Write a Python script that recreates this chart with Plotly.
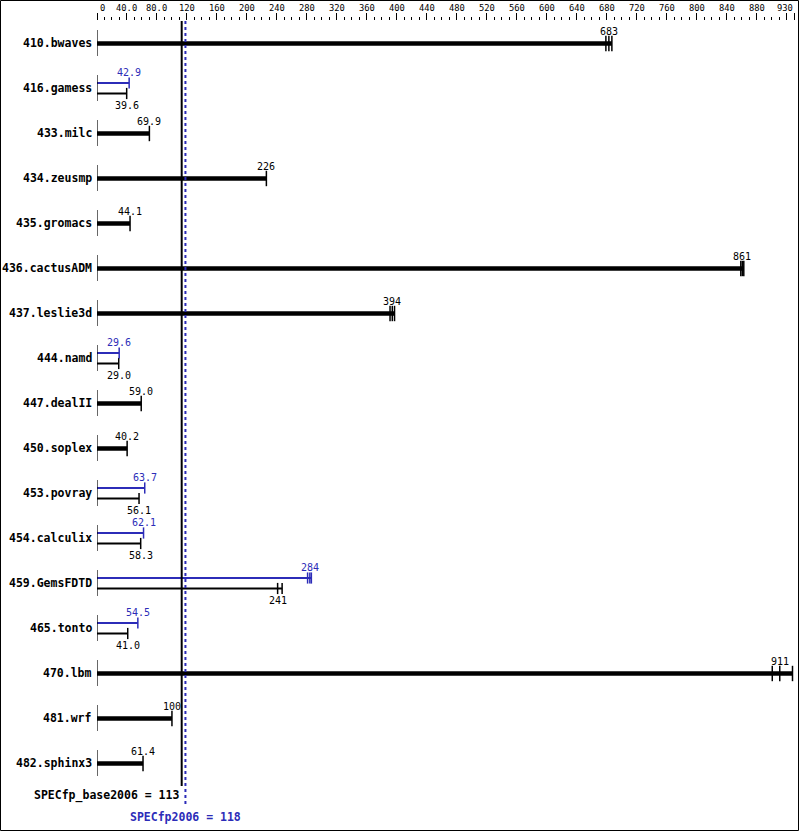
import plotly.graph_objects as go

benchmarks = ["410.bwaves", "416.gamess", "433.milc", "434.zeusmp", "435.gromacs",
              "436.cactusADM", "437.leslie3d", "444.namd", "447.dealII", "450.soplex",
              "453.povray", "454.calculix", "459.GemsFDTD", "465.tonto", "470.lbm",
              "481.wrf", "482.sphinx3"]
base_vals = [683, 39.6, 69.9, 226, 44.1, 861, 394, 29.0, 59.0, 40.2,
             56.1, 58.3, 241, 41.0, 911, 100, 61.4]
peak_vals = [None, 42.9, None, None, None, None, None, 29.6, None, None,
             63.7, 62.1, 284, 54.5, None, None, None]
base_runs = [[679, 683, 687], [39.6], [69.9], [226], [44.1], [859, 861, 863],
             [391, 394, 397], [29.0], [59.0], [40.2], [56.1], [58.3], [241, 247],
             [41.0], [901, 911, 928], [100], [61.4]]
peak_runs = [None, [42.9], None, None, None, None, None, [29.6], None, None,
             [63.7], [62.1], [281, 284, 286], [54.5], None, None, None]
axis_ticks = [0, 40, 80, 120, 160, 200, 240, 280, 320, 360, 400, 440, 480, 520,
              560, 600, 640, 680, 720, 760, 800, 840, 880, 930]
axis_tick_labels = ["0", "40.0", "80.0", "120", "160", "200", "240", "280", "320",
                    "360", "400", "440", "480", "520", "560", "600", "640", "680",
                    "720", "760", "800", "840", "880", "930"]
spec_base = 113
spec_peak = 118
XMAX = 930

W, H = 799, 831
ML, MR, MT, MB = 97, 5, 21, 5
PW, PH = W - ML - MR, H - MT - MB
ROW_PX = 45
FIRST_PX = 43
n = len(benchmarks)
BLUE = "#2c2cb8"
FONT = "DejaVu Sans Mono"


def row_of_px(p):
    return (p - FIRST_PX) / ROW_PX


def fmt(v):
    return f"{v:.0f}" if v >= 100 else f"{v:.1f}"


fig = go.Figure()
shapes = []
annotations = []

thick_x, thick_y = [], []
thin_bx, thin_by = [], []
thin_px, thin_py = [], []
tick_thick_x, tick_thick_y = [], []
tick_bx, tick_by = [], []
tick_px, tick_py = [], []

for i, name in enumerate(benchmarks):
    b = base_vals[i]
    p = peak_vals[i]
    # left stub line
    shapes.append(dict(type="line", xref="x", yref="y", x0=0, x1=0,
                       y0=i - 13 / ROW_PX, y1=i + 13 / ROW_PX,
                       line=dict(color="black", width=1.2)))
    annotations.append(dict(x=0, y=i, xref="x", yref="y", text=f"<b>{name}</b>",
                            showarrow=False, xanchor="right", yanchor="middle",
                            xshift=-3, font=dict(family=FONT, size=11.5, color="black")))
    if p is None:
        yb = i + 0.5 / ROW_PX
        thick_x += [0, max(base_runs[i] + [b]), None]
        thick_y += [yb, yb, None]
        for r in base_runs[i]:
            tick_thick_x.append(r)
            tick_thick_y.append(yb)
        annotations.append(dict(x=b, y=i, xref="x", yref="y", text=fmt(b),
                                showarrow=False, xanchor="center", yanchor="middle",
                                yshift=12, font=dict(family=FONT, size=10, color="black")))
    else:
        yp = i - 5 / ROW_PX
        yb = i + 5.5 / ROW_PX
        thin_px += [0, max(peak_runs[i] + [p]), None]
        thin_py += [yp, yp, None]
        thin_bx += [0, max(base_runs[i] + [b]), None]
        thin_by += [yb, yb, None]
        for r in peak_runs[i]:
            tick_px.append(r)
            tick_py.append(yp)
        for r in base_runs[i]:
            tick_bx.append(r)
            tick_by.append(yb)
        annotations.append(dict(x=p, y=i, xref="x", yref="y", text=fmt(p),
                                showarrow=False, xanchor="center", yanchor="middle",
                                yshift=16, font=dict(family=FONT, size=10, color=BLUE)))
        annotations.append(dict(x=b, y=i, xref="x", yref="y", text=fmt(b),
                                showarrow=False, xanchor="center", yanchor="middle",
                                yshift=-17, font=dict(family=FONT, size=10, color="black")))

fig.add_trace(go.Scatter(x=thick_x, y=thick_y, mode="lines",
                         line=dict(color="black", width=4.5), hoverinfo="skip"))
fig.add_trace(go.Scatter(x=thin_bx, y=thin_by, mode="lines",
                         line=dict(color="black", width=2), hoverinfo="skip"))
fig.add_trace(go.Scatter(x=thin_px, y=thin_py, mode="lines",
                         line=dict(color=BLUE, width=2), hoverinfo="skip"))
fig.add_trace(go.Scatter(x=tick_thick_x, y=tick_thick_y, mode="markers",
                         marker=dict(symbol="line-ns", size=11,
                                     line=dict(color="black", width=1.5)),
                         hoverinfo="skip"))
fig.add_trace(go.Scatter(x=tick_bx, y=tick_by, mode="markers",
                         marker=dict(symbol="line-ns", size=8,
                                     line=dict(color="black", width=1.5)),
                         hoverinfo="skip"))
fig.add_trace(go.Scatter(x=tick_px, y=tick_py, mode="markers",
                         marker=dict(symbol="line-ns", size=8,
                                     line=dict(color=BLUE, width=1.5)),
                         hoverinfo="skip"))

y_top = row_of_px(MT)
y_bot = row_of_px(H - MB)

# summary lines
shapes.append(dict(type="line", xref="x", yref="y", x0=spec_base, x1=spec_base,
                   y0=y_top, y1=row_of_px(786), line=dict(color="black", width=2)))
shapes.append(dict(type="line", xref="x", yref="y", x0=spec_peak, x1=spec_peak,
                   y0=y_top, y1=row_of_px(806), line=dict(color=BLUE, width=2, dash="dot")))
annotations.append(dict(x=spec_base, y=row_of_px(795), xref="x", yref="y",
                        text=f"<b>SPECfp_base2006 = {spec_base}</b>", showarrow=False,
                        xanchor="right", yanchor="middle", xshift=-1,
                        font=dict(family=FONT, size=11.5, color="black")))
annotations.append(dict(x=spec_peak, y=row_of_px(817), xref="x", yref="y",
                        text=f"<b>SPECfp2006 = {spec_peak}</b>", showarrow=False,
                        xanchor="center", yanchor="middle",
                        font=dict(family=FONT, size=11.5, color=BLUE)))

# top axis tick labels
for v, t in zip(axis_ticks, axis_tick_labels):
    anchor = "center"
    shift = 0
    if v == 0:
        anchor, shift = "left", 1
    elif v == XMAX:
        anchor, shift = "right", 1
    annotations.append(dict(x=v, y=1, xref="x", yref="paper", text=t, showarrow=False,
                            xanchor=anchor, yanchor="middle", yshift=13, xshift=shift,
                            font=dict(family=FONT, size=8.8, color="black")))

# border around the whole image
shapes.append(dict(type="rect", xref="paper", yref="paper",
                   x0=(-ML + 0.5) / PW, x1=(W - ML - 0.5) / PW,
                   y0=(-MB + 0.5) / PH, y1=(H - MB - 0.5) / PH + 0.0,
                   line=dict(color="black", width=1)))

major_ticks = [v for v in range(0, XMAX, 40)] + [XMAX]

fig.update_layout(
    width=W, height=H,
    margin=dict(l=ML, r=MR, t=MT, b=MB, autoexpand=False),
    paper_bgcolor="white", plot_bgcolor="white",
    showlegend=False,
    shapes=shapes, annotations=annotations,
    xaxis=dict(range=[0, XMAX], side="top", showgrid=False, zeroline=False,
               showline=False, tickmode="array", tickvals=major_ticks,
               showticklabels=False, ticks="outside", ticklen=7, tickwidth=1,
               tickcolor="black", automargin=False,
               minor=dict(tickmode="linear", tick0=0, dtick=10, ticks="outside",
                          ticklen=3, tickwidth=1, tickcolor="black", showgrid=False)),
    yaxis=dict(range=[y_bot, y_top], showgrid=False, zeroline=False, showline=False,
               showticklabels=False, ticks="", automargin=False),
)

fig.write_html("out.html", config={"displayModeBar": False},
               post_script="document.body.style.margin='0';document.body.style.padding='0';document.body.style.overflow='hidden';")
